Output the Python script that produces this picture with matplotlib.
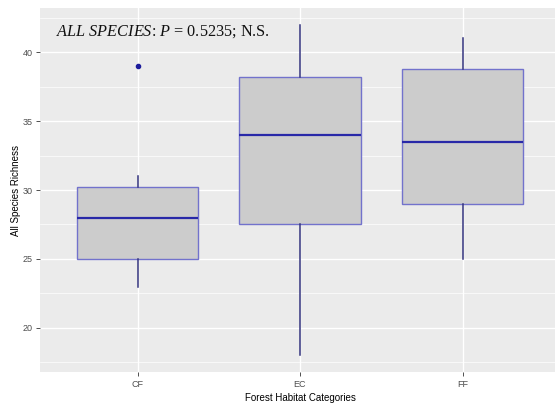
import matplotlib
matplotlib.use("Agg")
import matplotlib.pyplot as plt
from matplotlib.ticker import MultipleLocator

# Forest habitat categories and box statistics of species richness
categories = ["CF", "EC", "FF"]
whisker_low = [23, 18, 25]
q1 = [25, 27.5, 29]
median = [28, 34, 33.5]
q3 = [30.25, 38.2, 38.75]
whisker_high = [31, 42, 41]
outliers = [[39], [], []]

plt.rcParams["mathtext.fontset"] = "custom"
plt.rcParams["mathtext.it"] = "Liberation Serif:italic"
plt.rcParams["mathtext.rm"] = "Liberation Serif"

fig = plt.figure(figsize=(5.55, 4.03), dpi=100)
ax = fig.add_axes([40 / 555, 31 / 403, 520 / 555, 364 / 403])
ax.set_facecolor("#ebebeb")

stats = []
for i, name in enumerate(categories):
    stats.append({
        "label": name,
        "whislo": whisker_low[i],
        "q1": q1[i],
        "med": median[i],
        "q3": q3[i],
        "whishi": whisker_high[i],
        "fliers": outliers[i],
    })

ax.bxp(stats, positions=[1, 2, 3], widths=0.75, patch_artist=True,
       showcaps=False, zorder=3,
       boxprops=dict(facecolor="#cccccc", edgecolor="#7272cc", linewidth=1.0),
       medianprops=dict(color="#2828a8", linewidth=1.6),
       whiskerprops=dict(color="#34347e", linewidth=1.1),
       flierprops=dict(marker="o", markersize=3.0, markerfacecolor="#1c1c9c",
                       markeredgecolor="#1c1c9c"))

ax.set_xlim(0.4, 3.6)
ax.set_ylim(16.8, 43.2)
ax.yaxis.set_major_locator(MultipleLocator(5))
ax.yaxis.set_minor_locator(MultipleLocator(2.5))
ax.set_xticks([1, 2, 3])
ax.set_xticklabels(categories)

ax.grid(which="major", color="white", linewidth=1.0, zorder=0)
ax.grid(which="minor", axis="y", color="white", linewidth=0.5, zorder=0)
ax.set_axisbelow(True)
for s in ax.spines.values():
    s.set_visible(False)

ax.tick_params(axis="both", which="major", length=3, width=0.6, color="#333333",
               labelsize=6.5, labelcolor="#4d4d4d", pad=2.5)
ax.tick_params(axis="both", which="minor", length=0)
for lab in ax.get_xticklabels() + ax.get_yticklabels():
    lab.set_family("Liberation Sans")

ax.set_xlabel("Forest Habitat Categories", fontsize=7, family="Liberation Sans",
              labelpad=3)
ax.set_ylabel("All Species Richness", fontsize=7, family="Liberation Sans",
              labelpad=1)

ax.text(0.5, 41.45, r"$\mathit{ALL\ SPECIES}$: $\mathit{P}$ = 0.5235; N.S.",
        family="Liberation Serif", fontsize=11.7, ha="left", va="center",
        color="#111111", zorder=4)

fig.savefig("out.png", dpi=100)
